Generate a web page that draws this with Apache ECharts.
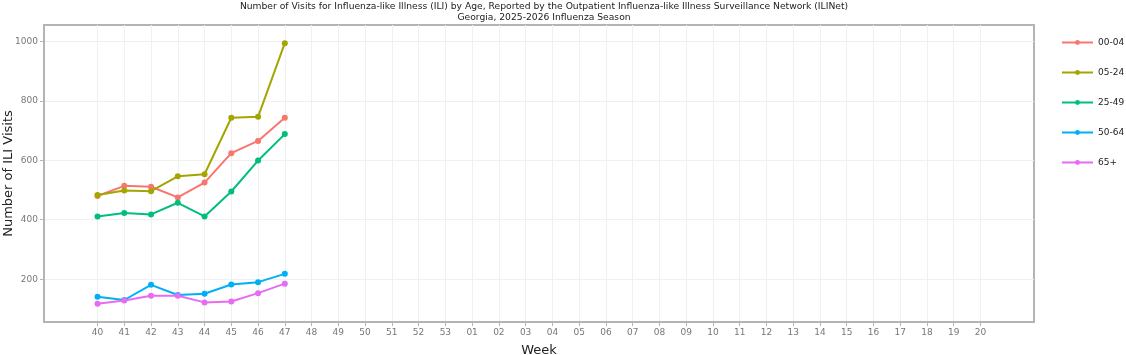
<!DOCTYPE html>
<html>
<head>
<meta charset="utf-8">
<script src="https://cdn.jsdelivr.net/npm/echarts@6/dist/echarts.min.js"></script>
<style>html,body{margin:0;padding:0;background:#fff;}#c{width:1126px;height:355px;}</style>
</head>
<body>
<div id="c"></div>
<script>
var weeks = ['40','41','42','43','44','45','46','47','48','49','50','51','52','53','01','02','03','04','05','06','07','08','09','10','11','12','13','14','15','16','17','18','19','20'];
var seriesNames = ['00-04','05-24','25-49','50-64','65+'];
var v0004 = [480, 514, 511, 475, 525, 624, 665, 743];
var v0524 = [483, 498, 496, 546, 553, 743, 746, 994];
var v2549 = [411, 423, 418, 457, 411, 495, 599, 688];
var v5064 = [141, 130, 181, 147, 151, 182, 190, 218];
var v65p  = [117, 128, 144, 144, 122, 125, 153, 185];
var yTicks = [200, 400, 600, 800, 1000];
var colors = ['#F8766D', '#A3A500', '#00BF7D', '#00B0F6', '#E76BF3'];

var allVals = [v0004, v0524, v2549, v5064, v65p];
var xIdx = weeks.map(function(w, i){ return i; });

var chart = echarts.init(document.getElementById('c'), null, {renderer: 'canvas'});
var series = seriesNames.map(function(name, k){
  return {
    name: name,
    type: 'line',
    data: allVals[k].map(function(v, i){ return [i, v]; }),
    symbol: 'circle',
    symbolSize: 6,
    lineStyle: {width: 2, color: colors[k]},
    itemStyle: {color: colors[k]},
    animation: false
  };
});

chart.setOption({
  animation: false,
  color: colors,
  title: {
    text: 'Number of Visits for Influenza-like Illness (ILI) by Age, Reported by the Outpatient Influenza-like Illness Surveillance Network (ILINet)\nGeorgia, 2025-2026 Influenza Season',
    left: 539, top: -4, textAlign: 'center',
    textStyle: {fontFamily: 'DejaVu Sans', fontSize: 9.2, fontWeight: 'normal', color: '#222', lineHeight: 11}
  },
  legend: {
    orient: 'vertical',
    left: 1061, top: 38, padding: 0,
    itemWidth: 31, itemHeight: 6, itemGap: 21,
    data: seriesNames,
    textStyle: {fontFamily: 'DejaVu Sans', fontSize: 9, color: '#222'}
  },
  grid: {left: 44, right: 92, top: 25, bottom: 33, show: true, borderColor: '#b4b4b4', borderWidth: 2, containLabel: false, outerBoundsMode: 'none'},
  xAxis: {
    type: 'value', min: -2, max: 35,
    name: 'Week', nameLocation: 'middle', nameGap: 22,
    nameTextStyle: {fontFamily: 'DejaVu Sans', fontSize: 13, color: '#222'},
    axisLine: {show: true, onZero: false, lineStyle: {color: '#b4b4b4', width: 2}},
    axisTick: {show: true, length: 4, lineStyle: {color: '#b4b4b4'}, customValues: xIdx},
    axisLabel: {customValues: xIdx, margin: 6, fontFamily: 'DejaVu Sans', fontSize: 9, color: '#777',
      formatter: function(v){ return weeks[Math.round(v)] || ''; }},
    splitLine: {show: true, lineStyle: {color: '#f0f0f0', width: 1}}
  },
  yAxis: {
    type: 'value', min: 56, max: 1055,
    name: 'Number of ILI Visits', nameLocation: 'middle', nameGap: 29, nameMoveOverlap: false,
    nameTextStyle: {fontFamily: 'DejaVu Sans', fontSize: 13, color: '#222'},
    axisLine: {show: true, onZero: false, lineStyle: {color: '#b4b4b4', width: 2}},
    axisTick: {show: true, length: 4, lineStyle: {color: '#b4b4b4'}, customValues: yTicks},
    axisLabel: {customValues: yTicks, margin: 6, fontFamily: 'DejaVu Sans', fontSize: 9, color: '#777',
      formatter: function(v){ return String(v); }},
    splitLine: {show: true, lineStyle: {color: '#f0f0f0', width: 1}}
  },
  series: series
});
</script>
</body>
</html>
